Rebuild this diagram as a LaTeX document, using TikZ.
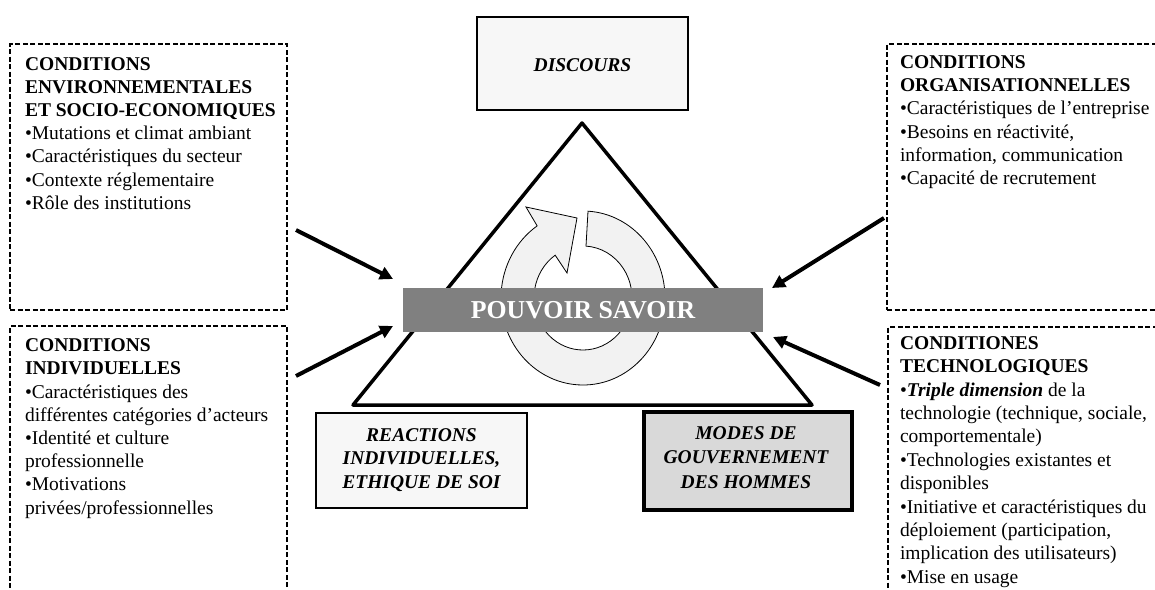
\documentclass[tikz,border=0pt]{standalone}
\usepackage{fontspec}
\setmainfont{Liberation Serif}
\usetikzlibrary{arrows.meta,calc}
\definecolor{lightfill}{HTML}{F7F7F7}
\definecolor{modesfill}{HTML}{D9D9D9}
\definecolor{barfill}{HTML}{808080}
\definecolor{ringfill}{HTML}{F2F2F2}
\begin{document}
\begin{tikzpicture}[x=1pt,y=-1pt,
  dashbox/.style={draw, line width=2pt, dash pattern=on 5pt off 2.5pt, inner sep=0pt, outer sep=0pt},
  solidbox/.style={draw, line width=2.5pt, fill=lightfill, inner sep=0pt, outer sep=0pt},
  inarrow/.style={line width=4pt, -{Triangle[length=13pt,width=13pt]}},
  bodytext/.style={anchor=base west, inner sep=0pt, outer sep=0pt},
  boxtitle/.style={anchor=base, inner sep=0pt, outer sep=0pt}]
\useasboundingbox (0,0) rectangle (1155,589);
\clip (0,0) rectangle (1155,589);

% dashed condition boxes
\node[dashbox, minimum width=277pt, minimum height=266pt] (envbox) at (148.5,177) {};
\node[dashbox, minimum width=277pt, minimum height=284pt] (indbox) at (148.5,468) {};
\node[dashbox, minimum width=283pt, minimum height=266pt] (orgbox) at (1028.5,177) {};
\node[dashbox, minimum width=282pt, minimum height=283pt] (techbox) at (1029,468.5) {};

% texts of condition boxes
\node[bodytext] (envtext) at (25,70) {\parbox[t]{300pt}{\fontsize{19.5}{23.2}\selectfont\raggedright
\textbf{CONDITIONS}\\
\textbf{ENVIRONNEMENTALES}\\
\textbf{ET SOCIO-ECONOMIQUES}\\
•Mutations et climat ambiant\\
•Caractéristiques du secteur\\
•Contexte réglementaire\\
•Rôle des institutions}};

\node[bodytext] (indtext) at (25,351.7) {\parbox[t]{300pt}{\fontsize{19.5}{23.2}\selectfont\raggedright
\textbf{CONDITIONS}\\
\textbf{INDIVIDUELLES}\\
•Caractéristiques des\\
différentes catégories d’acteurs\\
•Identité et culture\\
professionnelle\\
•Motivations\\
privées/professionnelles}};

\node[bodytext] (orgtext) at (900,68.5) {\parbox[t]{300pt}{\fontsize{19.5}{23.2}\selectfont\raggedright
\textbf{CONDITIONS}\\
\textbf{ORGANISATIONNELLES}\\
•Caractéristiques de l’entreprise\\
•Besoins en réactivité,\\
information, communication\\
•Capacité de recrutement}};

\node[bodytext] (techtext) at (900,349.3) {\parbox[t]{300pt}{\fontsize{19.5}{23.4}\selectfont\raggedright
\textbf{CONDITIONES}\\
\textbf{TECHNOLOGIQUES}\\
•\textbf{\textit{Triple dimension}} de la\\
technologie (technique, sociale,\\
comportementale)\\
•Technologies existantes et\\
disponibles\\
•Initiative et caractéristiques du\\
déploiement (participation,\\
implication des utilisateurs)\\
•Mise en usage}};

% top and bottom boxes
\node[solidbox, minimum width=211pt, minimum height=93pt] (discours) at (582.5,63.5) {};
\node[boxtitle] (discourstext) at (582.5,71) {\fontsize{19.5}{24}\selectfont\bfseries\itshape DISCOURS};

\node[solidbox, minimum width=211pt, minimum height=95pt] (reactions) at (421.5,460.5) {};
\node[boxtitle] (reactionstext) at (421.5,441) {\parbox[t]{205pt}{\centering\fontsize{19.5}{23.5}\selectfont\bfseries\itshape
REACTIONS\\ INDIVIDUELLES,\\ ETHIQUE DE SOI}};

\node[solidbox, fill=modesfill, line width=4.5pt, minimum width=208pt, minimum height=98pt] (modes) at (748,461) {};
\node[boxtitle] (modestext) at (746,439) {\parbox[t]{205pt}{\centering\fontsize{19.5}{24.5}\selectfont\bfseries\itshape
MODES DE\\ GOUVERNEMENT\\ DES HOMMES}};

% circular arrow
\coordinate (ctr) at (583,298);
\path[draw=black, line width=0.8pt, fill=ringfill, line join=miter]
  ($(ctr)+(-86.5:82 and 87)$)
  arc[start angle=-86.5, end angle=236, x radius=82, y radius=87]
  -- (526,207) -- (577,218) -- (567,273)
  -- ($(ctr)+(235.4:49 and 52)$)
  arc[start angle=235.4, end angle=-86.5, x radius=49, y radius=52]
  -- cycle;

% triangle
\coordinate (apex) at (582,123);
\coordinate (bl) at (353,405);
\coordinate (br) at (812,405);
\draw[line width=3.5pt, line join=round] (apex) -- (bl) -- (br) -- cycle;

% central bar
\node[fill=barfill, minimum width=360pt, minimum height=44pt, inner sep=0pt, text=white,
  font=\fontsize{25.8}{30}\selectfont\bfseries] (bar) at (583,310) {POUVOIR SAVOIR};

% arrows
\coordinate (a1s) at (296,230); \coordinate (a1e) at (393,279);
\coordinate (a2s) at (296,376); \coordinate (a2e) at (393,326);
\coordinate (a3s) at (884,218); \coordinate (a3e) at (772,288);
\coordinate (a4s) at (880,385); \coordinate (a4e) at (773,337);
\draw[inarrow] (a1s) -- (a1e);
\draw[inarrow] (a2s) -- (a2e);
\draw[inarrow] (a3s) -- (a3e);
\draw[inarrow] (a4s) -- (a4e);
\end{tikzpicture}
\end{document}
